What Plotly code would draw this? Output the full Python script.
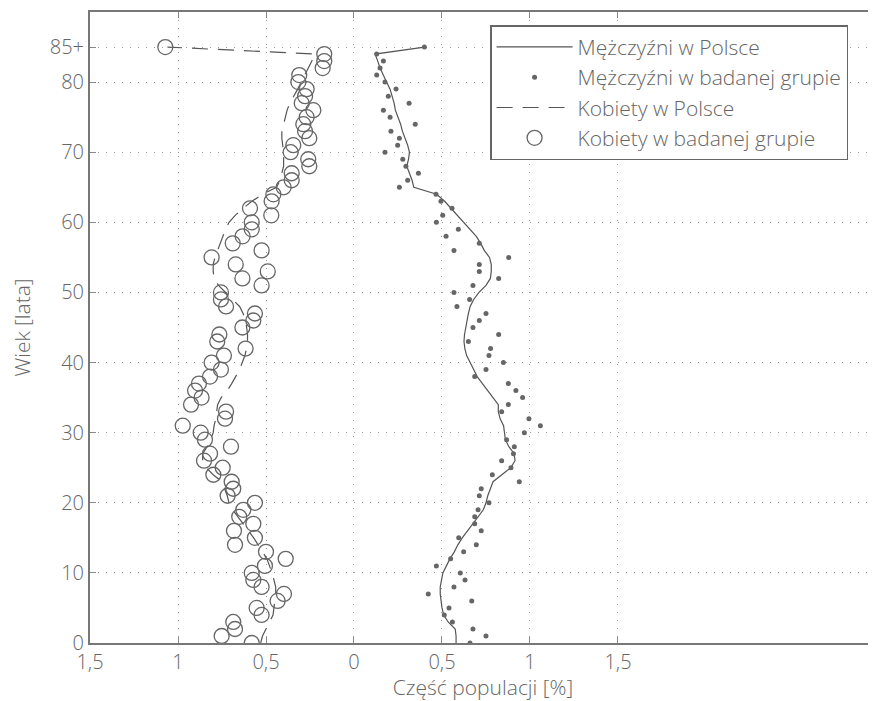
import plotly.graph_objects as go

# ---------------- data ----------------
ages = list(range(0, 86))  # 85 = "85+"

men_poland = [
    0.58, 0.58, 0.575, 0.535, 0.51, 0.50, 0.495, 0.49, 0.49, 0.498,
    0.505, 0.525, 0.545, 0.57, 0.59, 0.615, 0.645, 0.67, 0.70, 0.735,
    0.75, 0.76, 0.775, 0.79, 0.84, 0.89, 0.915, 0.91, 0.88, 0.86,
    0.855, 0.85, 0.83, 0.82, 0.82, 0.79, 0.755, 0.73, 0.70, 0.68,
    0.66, 0.64, 0.63, 0.625, 0.628, 0.635, 0.64, 0.65, 0.66, 0.68,
    0.71, 0.75, 0.775, 0.78, 0.78, 0.77, 0.74, 0.72, 0.695, 0.66,
    0.625, 0.59, 0.555, 0.515, 0.47, 0.34, 0.33, 0.315, 0.30, 0.31,
    0.315, 0.305, 0.29, 0.275, 0.265, 0.252, 0.235, 0.228, 0.218, 0.205,
    0.185, 0.165, 0.148, 0.135, 0.12, 0.40,
]

men_sample = [
    0.659, 0.750, 0.676, 0.559, 0.513, 0.540, 0.669, 0.422, 0.568, 0.631,
    0.604, 0.468, 0.549, 0.623, 0.695, 0.595, 0.723, 0.686, 0.686, 0.705,
    0.767, 0.712, 0.723, 0.939, 0.786, 0.892, 0.839, 0.906, 0.911, 0.867,
    0.968, 1.059, 0.994, 0.839, 0.877, 0.958, 0.920, 0.877, 0.686, 0.750,
    0.849, 0.767, 0.776, 0.650, 0.822, 0.676, 0.712, 0.750, 0.585, 0.657,
    0.568, 0.676, 0.822, 0.712, 0.712, 0.879, 0.568, 0.712, 0.523, 0.593,
    0.468, 0.504, 0.557, 0.494, 0.466, 0.258, 0.305, 0.366, 0.295, 0.277,
    0.176, 0.248, 0.258, 0.210, 0.348, 0.205, 0.167, 0.313, 0.195, 0.239,
    0.176, 0.129, 0.148, 0.167, 0.129, 0.40,
]

women_poland = [
    0.53, 0.52, 0.50, 0.48, 0.46, 0.455, 0.45, 0.445, 0.445, 0.455,
    0.465, 0.48, 0.495, 0.52, 0.545, 0.57, 0.60, 0.63, 0.66, 0.69,
    0.71, 0.72, 0.735, 0.75, 0.80, 0.84, 0.86, 0.86, 0.835, 0.815,
    0.80, 0.795, 0.785, 0.78, 0.775, 0.755, 0.72, 0.695, 0.67, 0.65,
    0.635, 0.62, 0.61, 0.605, 0.605, 0.61, 0.615, 0.63, 0.65, 0.69,
    0.73, 0.77, 0.795, 0.80, 0.80, 0.79, 0.775, 0.76, 0.745, 0.73,
    0.71, 0.675, 0.63, 0.58, 0.52, 0.44, 0.42, 0.41, 0.40, 0.40,
    0.40, 0.405, 0.41, 0.41, 0.40, 0.39, 0.38, 0.365, 0.34, 0.32,
    0.30, 0.28, 0.26, 0.24, 0.22, 1.06,
]

women_sample = [
    0.581, 0.752, 0.676, 0.686, 0.525, 0.553, 0.434, 0.398, 0.525, 0.572,
    0.581, 0.506, 0.388, 0.500, 0.676, 0.563, 0.682, 0.572, 0.652, 0.629,
    0.563, 0.718, 0.686, 0.695, 0.799, 0.746, 0.852, 0.818, 0.699, 0.847,
    0.871, 0.973, 0.733, 0.727, 0.926, 0.866, 0.903, 0.881, 0.818, 0.756,
    0.809, 0.739, 0.616, 0.777, 0.765, 0.634, 0.572, 0.563, 0.727, 0.756,
    0.756, 0.525, 0.634, 0.490, 0.672, 0.809, 0.525, 0.689, 0.633, 0.581,
    0.581, 0.470, 0.591, 0.468, 0.458, 0.400, 0.354, 0.354, 0.254, 0.260,
    0.360, 0.345, 0.254, 0.278, 0.288, 0.269, 0.231, 0.297, 0.278, 0.269,
    0.316, 0.311, 0.178, 0.169, 0.169, 1.072,
]

x_tickvals = [-1.5, -1, -0.5, 0, 0.5, 1, 1.5]
x_ticktext = ["1,5", "1", "0,5", "0", "0,5", "1", "1,5"]
y_tickvals = [0, 10, 20, 30, 40, 50, 60, 70, 80, 85]
y_ticktext = ["0", "10", "20", "30", "40", "50", "60", "70", "80", "85+"]

labels = ["Mężczyźni w Polsce", "Mężczyźni w badanej grupie",
          "Kobiety w Polsce", "Kobiety w badanej grupie"]

# ---------------- figure ----------------
GREY = "#666666"
TEXT = "#666666"
FONT = "Open Sans"
FS_TICK = 20
FS_TITLE = 21
FS_LEG = 21
FW = 300

fig = go.Figure()
fig.add_trace(go.Scatter(
    x=men_poland, y=ages, mode="lines", name=labels[0],
    line=dict(color="#555555", width=1.2)))
fig.add_trace(go.Scatter(
    x=men_sample, y=ages, mode="markers", name=labels[1],
    marker=dict(color=GREY, size=5, line=dict(width=0))))
fig.add_trace(go.Scatter(
    x=[-v for v in women_poland], y=ages, mode="lines", name=labels[2],
    line=dict(color="#555555", width=1.2, dash="16px,10px")))
fig.add_trace(go.Scatter(
    x=[-v for v in women_sample], y=ages, mode="markers", name=labels[3],
    marker=dict(symbol="circle-open", color=GREY, size=15,
                line=dict(width=1.3, color=GREY))))

axis_common = dict(
    showline=True, linecolor="#777777", linewidth=2,
    ticks="inside", ticklen=6, tickcolor="#888888", tickwidth=1,
    showgrid=True, gridcolor="#999999", gridwidth=1, griddash="1px,7px",
    zeroline=False, automargin=False,
    tickfont=dict(family=FONT, size=FS_TICK, color=TEXT, weight=FW),
)

fig.update_xaxes(
    range=[-1.5, 2.966], tickvals=x_tickvals, ticktext=x_ticktext,
    mirror="ticks",
    title=dict(text="Część populacji [%]",
               font=dict(family=FONT, size=FS_TITLE, color=TEXT, weight=FW),
               standoff=10),
    **axis_common)
fig.update_yaxes(
    range=[0, 90], tickvals=y_tickvals, ticktext=y_ticktext,
    title=dict(text="Wiek [lata]",
               font=dict(family=FONT, size=FS_TITLE, color=TEXT, weight=FW),
               standoff=24),
    **axis_common)

# page body has an 8px margin: figure sized so the plot area lands where
# the reference has it
fig.update_layout(
    width=868, height=693,
    margin=dict(l=82, r=0, t=4, b=58),
    plot_bgcolor="white", paper_bgcolor="white",
    font=dict(family=FONT, color=TEXT, weight=FW),
    showlegend=True,
    legend=dict(
        x=0.509, y=0.979, xanchor="left", yanchor="top",
        bgcolor="white", bordercolor="#666666", borderwidth=1.5,
        font=dict(family=FONT, size=FS_LEG, color=TEXT, weight=FW),
        itemwidth=76, tracegroupgap=0,
    ),
)

fig.write_html("out.html")
